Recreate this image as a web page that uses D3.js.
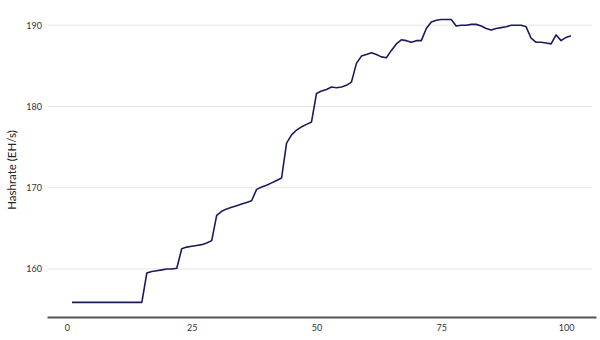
<!DOCTYPE html>
<html>
<head>
<meta charset="utf-8">
<script src="https://cdn.jsdelivr.net/npm/d3@7"></script>
<style>
  body { margin: 0; background: #fff; }
  svg { display: block; font-family: Lato, "Open Sans", sans-serif; }
</style>
</head>
<body>
<div id="chart"></div>
<script>
// Hashrate series, one value per step (x = 1..101)
const steps = d3.range(1, 102);
const hashrate = [
  155.9, 155.9, 155.9, 155.9, 155.9, 155.9, 155.9, 155.9, 155.9, 155.9,
  155.9, 155.9, 155.9, 155.9, 155.9,
  159.5, 159.7, 159.8, 159.9, 160.0, 160.0, 160.1,
  162.5, 162.7, 162.8, 162.9, 163.0, 163.2, 163.5,
  166.6, 167.1, 167.4, 167.6, 167.8, 168.0, 168.2, 168.4,
  169.8, 170.1, 170.3, 170.6, 170.9, 171.2,
  175.5, 176.5, 177.1, 177.5, 177.8, 178.1,
  181.6, 181.9, 182.1, 182.4, 182.3, 182.4, 182.6, 183.0,
  185.3, 186.2, 186.4, 186.6, 186.4, 186.1, 186.0, 186.9, 187.7, 188.2,
  188.1, 187.9, 188.1, 188.1, 189.6, 190.4, 190.6, 190.7, 190.7, 190.7,
  189.9, 190.0, 190.0, 190.1, 190.1, 189.9, 189.6, 189.4, 189.6, 189.7,
  189.8, 190.0, 190.0, 190.0, 189.8, 188.4, 187.9, 187.9, 187.8, 187.7,
  188.8, 188.1, 188.5, 188.7
];
const xTicks = [0, 25, 50, 75, 100];
const yTicks = [160, 170, 180, 190];

const width = 600, height = 340;
const plot = {left: 47, right: 596, top: 0, bottom: 317};

const svg = d3.select("#chart").append("svg")
    .attr("width", width)
    .attr("height", height);

const x = d3.scaleLinear().domain([-4, 106]).range([plot.left, plot.right]);
const y = d3.scaleLinear().domain([154.1, 193.1]).range([plot.bottom, plot.top]);

// gridlines
svg.append("g")
  .selectAll("line")
  .data(yTicks)
  .join("line")
    .attr("x1", 48)
    .attr("x2", 592)
    .attr("y1", d => y(d))
    .attr("y2", d => y(d))
    .attr("stroke", "#e4e4e4")
    .attr("stroke-width", 1);

// y axis labels
const yAxis = svg.append("g")
    .attr("transform", "translate(42,0)")
    .call(d3.axisLeft(y).tickValues(yTicks).tickSize(0).tickPadding(0));
yAxis.select(".domain").remove();
yAxis.selectAll("text")
    .style("font-family", "Lato, sans-serif")
    .style("font-size", "9px")
    .attr("fill", "#333");

// x axis
const xAxis = svg.append("g")
    .attr("transform", `translate(0,${plot.bottom})`)
    .call(d3.axisBottom(x).tickValues(xTicks).tickSize(0).tickPadding(8));
xAxis.select(".domain")
    .attr("stroke", "#555")
    .attr("stroke-width", 2);
xAxis.selectAll("text")
    .style("font-family", "Lato, sans-serif")
    .style("font-size", "9px")
    .attr("fill", "#333");

// y axis title
svg.append("text")
    .attr("transform", "translate(16,170) rotate(-90)")
    .attr("text-anchor", "middle")
    .style("font-size", "11.5px")
    .attr("fill", "#222")
    .text("Hashrate (EH/s)");

// line
const line = d3.line()
    .x((d, i) => x(steps[i]))
    .y(d => y(d));

svg.append("path")
    .datum(hashrate)
    .attr("fill", "none")
    .attr("stroke", "#1b1b5c")
    .attr("stroke-width", 1.6)
    .attr("stroke-linejoin", "round")
    .attr("d", line);
</script>
</body>
</html>
